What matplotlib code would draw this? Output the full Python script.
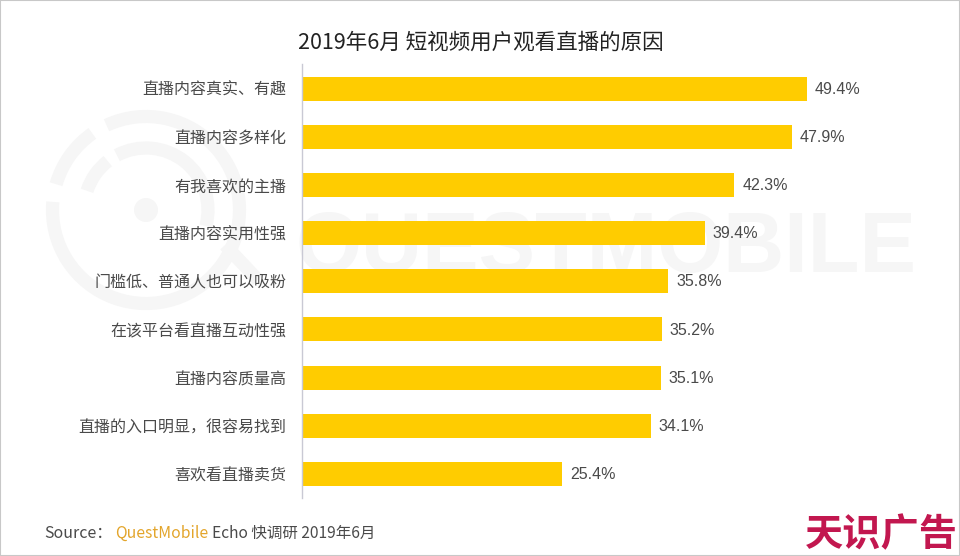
import matplotlib
matplotlib.use("Agg")
import matplotlib.pyplot as plt
from matplotlib.patches import Arc, Circle, Rectangle

plt.rcParams['font.family'] = ['Noto Sans CJK SC', 'DejaVu Sans']

# data
reasons = ["直播内容真实、有趣", "直播内容多样化", "有我喜欢的主播", "直播内容实用性强",
           "门槛低、普通人也可以吸粉", "在该平台看直播互动性强", "直播内容质量高",
           "直播的入口明显，很容易找到", "喜欢看直播卖货"]
shares = [49.4, 47.9, 42.3, 39.4, 35.8, 35.2, 35.1, 34.1, 25.4]
title = "2019年6月 短视频用户观看直播的原因"

W, H = 960, 556
fig = plt.figure(figsize=(W / 100, H / 100), dpi=100, facecolor="white")

# background layer in pixel coords: watermark and frame
bg = fig.add_axes([0, 0, 1, 1], zorder=0)
bg.set_xlim(0, W)
bg.set_ylim(H, 0)
bg.axis("off")
wm = "#f6f6f6"
cx, cy = 146, 210
bg.add_patch(Circle((cx, cy), 12, color=wm, lw=0))
# y is flipped here, so angles run clockwise on screen
bg.add_patch(Arc((cx, cy), 187, 187, theta1=245, theta2=185, color=wm, lw=9.5))
bg.add_patch(Arc((cx, cy), 187, 187, theta1=196, theta2=235, color=wm, lw=9.5))
bg.add_patch(Arc((cx, cy), 124, 124, theta1=198, theta2=232, color=wm, lw=9.5))
bg.add_patch(Arc((cx, cy), 124, 124, theta1=242, theta2=375, color=wm, lw=9.5))
bg.plot([225, 258], [245, 280], color=wm, lw=9.5, solid_capstyle="butt")
bg.text(606, 250, "QUESTMOBILE", color=wm, fontsize=61, fontweight="bold",
        family=["Liberation Sans"], ha="center", va="center")
bg.add_patch(Rectangle((0, 0), W, H, fill=False, ec="#c8c8c8", lw=1.5))

# bars
ax = fig.add_axes([302 / W, 1 - 498 / H, (W - 302) / W, (498 - 64.5) / H], zorder=1)
ax.patch.set_alpha(0)
ypos = list(range(len(reasons)))
ax.barh(ypos, shares, height=0.5, color="#ffcc00")
ax.set_xlim(0, (W - 302) / 10.22)
ax.set_ylim(len(reasons) - 0.5, -0.5)
ax.set_yticks(ypos)
ax.set_yticklabels(reasons, fontsize=11.5, color="#4a4a4a")
ax.tick_params(axis="y", length=0, pad=11.5)
ax.set_xticks([])
for s in ["top", "right", "bottom"]:
    ax.spines[s].set_visible(False)
ax.spines["left"].set_color("#c9c9d4")
ax.spines["left"].set_linewidth(1)

for y, v in zip(ypos, shares):
    ax.text(v + 0.8, y + 0.015, f"{v}%", va="center", ha="left", fontsize=11.5,
            color="#4a4a4a", family=["Liberation Sans"])

# texts
fig.text(481 / W, 1 - 43 / H, title, ha="center", va="center", fontsize=15.5, color="#222222")
y_src = 1 - 533 / H
fig.text(44 / W, y_src, "Source：", ha="left", va="center", fontsize=11.5, color="#4a4a4a")
fig.text(115 / W, y_src, "QuestMobile", ha="left", va="center", fontsize=11.3, color="#e3a52b")
fig.text(212 / W, y_src, "Echo 快调研 2019年6月", ha="left", va="center", fontsize=11.2, color="#4a4a4a")
fig.text(881 / W, 1 - 535 / H, "天识广告", ha="center", va="center", fontsize=27.5,
         fontweight="bold", color="#c2174f")

fig.savefig("out.png", dpi=100)
